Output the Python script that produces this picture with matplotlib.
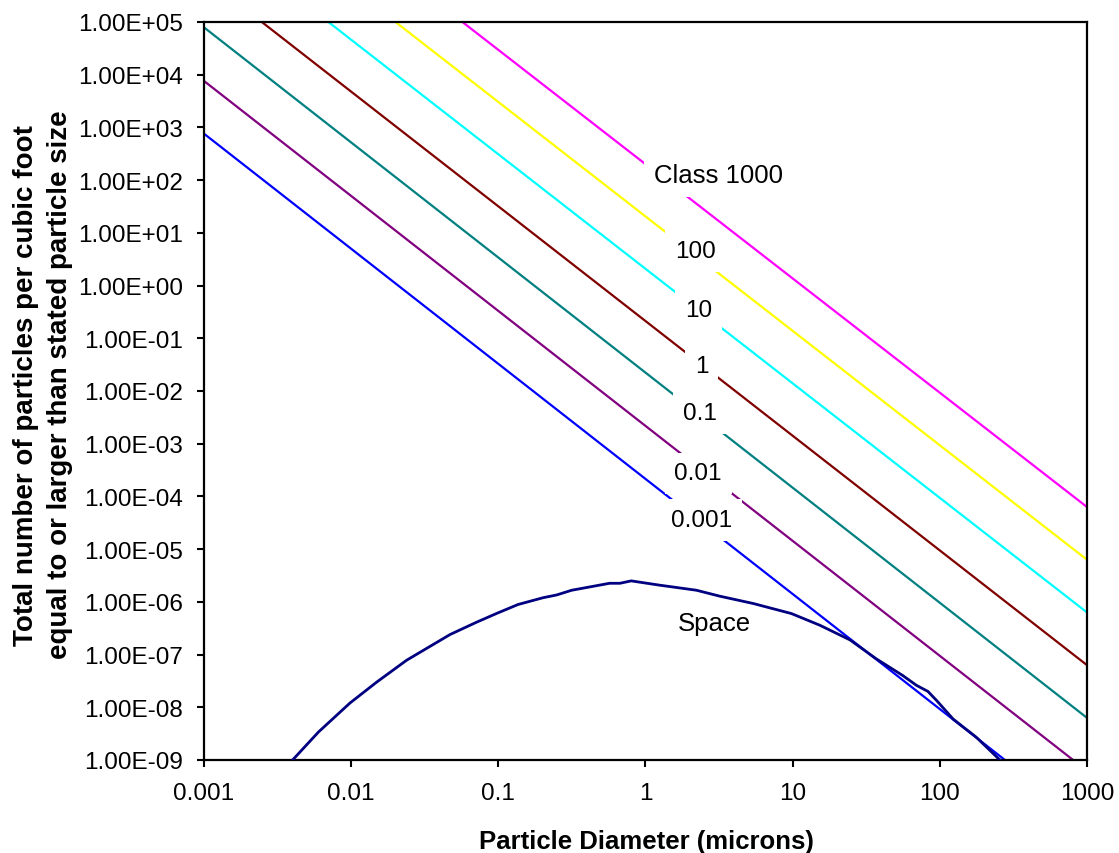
import matplotlib
matplotlib.use("Agg")
import matplotlib.pyplot as plt
from matplotlib.ticker import FixedLocator, FuncFormatter, NullLocator

plt.rcParams['font.family'] = ['Liberation Sans', 'DejaVu Sans']

# cleanliness classes: visible end points of each straight line
class_names = ['0.001', '0.01', '0.1', '1', '10', '100', 'Class 1000']
class_colors = ['#0000FF', '#800080', '#008080', '#800000', '#00FFFF', '#FFFF00', '#FF00FF']
class_x_start = [0.001, 0.001, 0.001, 0.00247, 0.0070, 0.020, 0.057]
class_y_start = [7.6e2, 7.6e3, 7.9e4, 1e5, 1e5, 1e5, 1e5]
class_x_end = [277, 805, 1000, 1000, 1000, 1000, 1000]
class_y_end = [1e-9, 1e-9, 6.3e-9, 6.3e-8, 6.3e-7, 6.3e-6, 6.3e-5]

# label positions (data coords)
label_x = [2.4, 2.28, 2.35, 2.4, 2.3, 2.17, 3.12]
label_y = [3.55e-5, 2.75e-4, 3.8e-3, 2.95e-2, 0.34, 4.5, 123]

# space environment curve
space_x = [0.004, 0.006, 0.0098, 0.0149, 0.0238, 0.047, 0.071, 0.097, 0.136,
           0.202, 0.249, 0.315, 0.41, 0.57, 0.67, 0.80, 1.25, 1.63, 2.22, 3.2,
           5.4, 9.8, 15.3, 24.5, 37, 56, 69.5, 83, 95, 123, 177, 256]
space_y = [1e-9, 3.4e-9, 1.2e-8, 3.0e-8, 7.8e-8, 2.4e-7, 4.1e-7, 6.0e-7, 8.9e-7,
           1.2e-6, 1.35e-6, 1.66e-6, 1.9e-6, 2.25e-6, 2.25e-6, 2.5e-6, 2.07e-6,
           1.87e-6, 1.66e-6, 1.28e-6, 9.3e-7, 6.0e-7, 3.6e-7, 1.9e-7, 8.3e-8,
           4.0e-8, 2.6e-8, 2.0e-8, 1.35e-8, 6.0e-9, 2.7e-9, 1e-9]

x_ticks = [0.001, 0.01, 0.1, 1, 10, 100, 1000]
x_tick_labels = ['0.001', '0.01', '0.1', '1', '10', '100', '1000']
y_ticks = [10.0 ** k for k in range(-9, 6)]

fig = plt.figure(figsize=(11.19, 8.54), dpi=100)
ax = fig.add_axes([0.1823, 0.1089, 0.9714 - 0.1823, 0.9731 - 0.1089])

for i in range(len(class_names)):
    ax.plot([class_x_start[i], class_x_end[i]], [class_y_start[i], class_y_end[i]],
            color=class_colors[i], lw=1.6, zorder=2, solid_capstyle='butt')

ax.plot(space_x, space_y, color='#000080', lw=2.0, zorder=3)

for i, name in enumerate(class_names):
    fs = 18.5 if name.startswith('Class') else 17.5
    ax.text(label_x[i], label_y[i], name, ha='center', va='center', fontsize=fs,
            zorder=4, bbox=dict(facecolor='white', edgecolor='none', pad=7))
ax.text(2.95, 3.9e-7, 'Space', ha='center', va='center', fontsize=18.5, zorder=4)

ax.set_xscale('log')
ax.set_yscale('log')
ax.set_xlim(0.001, 1000)
ax.set_ylim(1e-9, 1e5)

ax.xaxis.set_major_locator(FixedLocator(x_ticks))
ax.xaxis.set_minor_locator(NullLocator())
ax.set_xticklabels(x_tick_labels)
ax.yaxis.set_major_locator(FixedLocator(y_ticks))
ax.yaxis.set_minor_locator(NullLocator())
ax.yaxis.set_major_formatter(FuncFormatter(lambda v, p: f"{v:.2E}"))

ax.tick_params(axis='both', which='major', direction='out', length=5, width=1.5,
               labelsize=17.5, color='black')
ax.tick_params(axis='x', pad=11)
ax.tick_params(axis='y', pad=10)
for s in ax.spines.values():
    s.set_linewidth(1.6)
    s.set_color('black')

fig.text(0.5777, 0.006, 'Particle Diameter (microns)', ha='center', va='baseline',
         fontsize=18.5, fontweight='bold')
fig.text(0.038, 0.549,
         'Total number of particles per cubic foot\nequal to or larger than stated particle size',
         rotation=90, ha='center', va='center', multialignment='center',
         fontsize=20, fontweight='bold', linespacing=1.4)

fig.savefig('out.png', dpi=100)
